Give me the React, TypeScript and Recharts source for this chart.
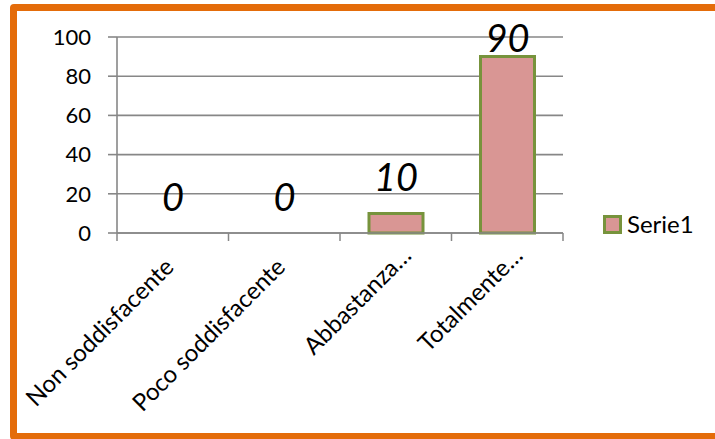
import React from 'react';
import { BarChart, Bar, XAxis, YAxis, CartesianGrid, Legend, LabelList, Rectangle } from 'recharts';

// Survey answers and their share (%)
const categories = ['Non soddisfacente', 'Poco soddisfacente', 'Abbastanza…', 'Totalmente…'];
const serie1 = [0, 0, 10, 90];
const yTicks = [0, 20, 40, 60, 80, 100];
const seriesName = 'Serie1';

const data = categories.map((categoria, i) => ({ categoria, [seriesName]: serie1[i] }));

const FONT = 'Lato, "Open Sans", sans-serif';
const GRAY = '#878787';
const FILL = '#D99694';
const EDGE = '#77933C';
const FRAME = '#E46C0A';
const LABEL_MIN_BASELINE = 52;

// Category labels rotated 45°, with Excel-like tick marks at the band edges
const CategoryTick = (props: any) => {
  const { x, y, payload, index, width, visibleTicksCount } = props;
  const count = visibleTicksCount || categories.length;
  const band = width / count;
  const text: string = String(payload.value);
  const truncated = text.endsWith('…');
  const ax = x + (truncated ? 17 : 2.5);
  const ay = y + (truncated ? 24 : 35.5);
  const last = index === count - 1;
  return (
    <g>
      <line x1={x - band / 2} x2={x - band / 2} y1={y} y2={y + 8} stroke={GRAY} strokeWidth={1.5} />
      {last && <line x1={x + band / 2} x2={x + band / 2} y1={y} y2={y + 8} stroke={GRAY} strokeWidth={1.5} />}
      <text
        x={ax}
        y={ay}
        transform={`rotate(-45, ${ax}, ${ay})`}
        textAnchor="end"
        fontFamily={FONT}
        fontSize={24}
        fill="#000"
      >
        {text}
      </text>
    </g>
  );
};

// Zero-valued bars keep a tiny placeholder rect (minPointSize) so their label is placed; draw nothing for them
const BarShape = (props: any) => {
  const v = Number(props.value ?? props.payload?.[seriesName]);
  if (!v) return null;
  return <Rectangle {...props} />;
};

const ValueLabel = (props: any) => {
  const { x, y, width, height, value } = props;
  const top = Number(value) === 0 ? Number(y) + Number(height) : Number(y);
  const baseline = Math.max(top - 22.5, LABEL_MIN_BASELINE);
  return (
    <text
      x={Number(x) + Number(width) / 2}
      y={baseline}
      textAnchor="middle"
      fontFamily={FONT}
      fontStyle="italic"
      fontSize={38}
      fill="#000"
    >
      {value}
    </text>
  );
};

const LegendBox = () => (
  <div style={{ display: 'flex', alignItems: 'center', fontFamily: FONT, fontSize: 24, color: '#000', lineHeight: 1 }}>
    <svg width={19} height={19} style={{ display: 'block' }}>
      <rect x={1.5} y={1.5} width={16} height={16} fill={FILL} stroke={EDGE} strokeWidth={3} />
    </svg>
    <span style={{ marginLeft: 5 }}>{seriesName}</span>
  </div>
);

export default function App() {
  return (
    <div style={{ position: 'absolute', left: 0, top: 0, width: 715, height: 439, overflow: 'hidden', background: '#fff' }}>
      <div style={{ position: 'absolute', left: 0, top: 0 }}>
        <BarChart
          width={715}
          height={439}
          data={data}
          margin={{ top: 37, right: 152, bottom: 56, left: 57 }}
          barCategoryGap={0}
        >
          <CartesianGrid vertical={false} stroke={GRAY} strokeWidth={1.6} />
          <XAxis
            dataKey="categoria"
            height={150}
            interval={0}
            tickLine={false}
            tickSize={0}
            tickMargin={0}
            axisLine={{ stroke: GRAY, strokeWidth: 1.6 }}
            tick={<CategoryTick />}
          />
          <YAxis
            width={60}
            domain={[0, 100]}
            ticks={yTicks}
            interval={0}
            tickSize={9}
            tickMargin={17}
            axisLine={{ stroke: GRAY, strokeWidth: 1.6 }}
            tickLine={{ stroke: GRAY, strokeWidth: 1.6 }}
            tick={{ fill: '#000', fontFamily: FONT, fontSize: 22 }}
          />
          <Legend
            layout="horizontal"
            verticalAlign="middle"
            align="center"
            wrapperStyle={{ position: 'absolute', left: 603, top: 212, width: 'auto', height: 'auto' }}
            content={<LegendBox />}
          />
          <Bar
            dataKey={seriesName}
            barSize={54}
            minPointSize={1}
            fill={FILL}
            stroke={EDGE}
            strokeWidth={3}
            shape={<BarShape />}
            isAnimationActive={false}
          >
            <LabelList dataKey={seriesName} content={<ValueLabel />} />
          </Bar>
        </BarChart>
      </div>
      <div
        style={{
          position: 'absolute',
          left: 10,
          top: 4,
          width: 715,
          height: 436,
          boxSizing: 'border-box',
          border: `7px solid ${FRAME}`,
          borderRadius: 4,
          pointerEvents: 'none',
        }}
      />
    </div>
  );
}
